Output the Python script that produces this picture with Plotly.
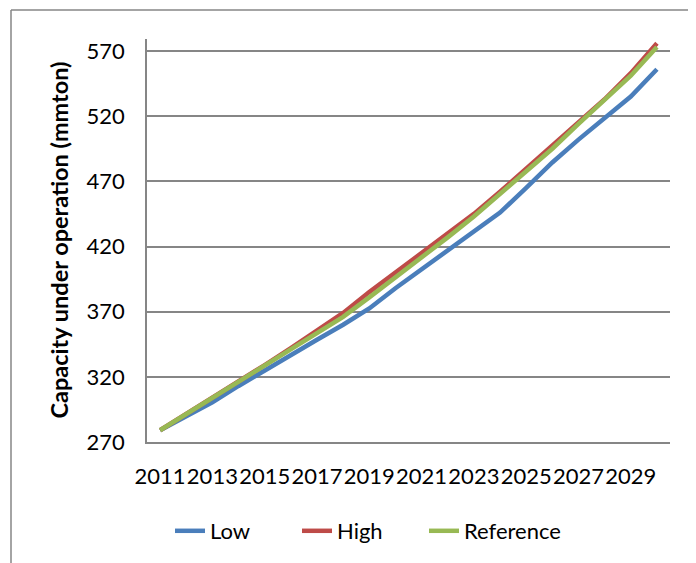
import plotly.graph_objects as go

years = list(range(2011, 2031))
low = [279, 290, 300.5, 313, 325, 337, 348.5, 360, 372.5, 388, 402.5, 417, 431, 446, 465, 484.5, 502, 519, 535, 556]
high = [279, 291.4, 303.8, 316, 329, 342, 355, 369, 385, 400, 415, 429.5, 445, 462, 480, 498, 516, 533, 553, 576]
reference = [279, 291.4, 303.8, 316, 328.5, 341, 354, 366, 381, 396, 412, 427, 443, 460, 477.5, 495, 514, 532, 551, 573]
tick_years = years[::2]
y_ticks = [270, 320, 370, 420, 470, 520, 570]

series = [("Low", low, "#4A7EBB"), ("High", high, "#BE4B48"), ("Reference", reference, "#98B954")]

FONT = "Lato"
OFF = 8  # page body margin
fig = go.Figure()
for name, vals, color in series:
    fig.add_trace(go.Scatter(x=years, y=vals, name=name, mode="lines",
                             line=dict(color=color, width=4.5)))
# spacer entry so the last legend label is not clipped
fig.add_trace(go.Scatter(x=[None], y=[None], name=" ", mode="lines", showlegend=True,
                         line=dict(color="rgba(0,0,0,0)", width=1), hoverinfo="skip"))

W, H = 696 - OFF, 563 - OFF
L, T = 147 - OFF, 39 - OFF
R = W - (670 - OFF)
B = H - (443 - OFF)
pw, ph = W - L - R, H - T - B

fig.update_layout(
    width=W, height=H,
    margin=dict(l=L, r=R, t=T, b=B),
    paper_bgcolor="white", plot_bgcolor="white",
    font=dict(family=FONT, size=22, color="black"),
    showlegend=True,
    legend=dict(orientation="h", x=23 / pw, xanchor="left",
                y=-88 / ph, yanchor="middle",
                font=dict(family=FONT, size=22, color="black"),
                entrywidth=82, entrywidthmode="pixels"),
    xaxis=dict(range=[2010.5, 2030.5], tickvals=tick_years,
               ticktext=[str(y) for y in tick_years], tickangle=0,
               showgrid=False, zeroline=False, showline=True,
               linecolor="#868686", linewidth=1.5, ticks="",
               ticklabelstandoff=14,
               tickfont=dict(family=FONT, size=22, color="black")),
    yaxis=dict(range=[270, 579.2], tickvals=y_ticks,
               showgrid=True, gridcolor="#868686", gridwidth=1.5,
               zeroline=False, showline=True, linecolor="#868686", linewidth=1.5,
               ticks="", ticklabelstandoff=16,
               tickfont=dict(family=FONT, size=22, color="black")),
    annotations=[dict(text="<b>Capacity under operation (mmton)</b>",
                      xref="paper", yref="paper", x=(58 - 147) / pw, y=0.5,
                      xanchor="center", yanchor="middle", textangle=-90,
                      showarrow=False,
                      font=dict(family=FONT, size=23.5, color="black"))],
    shapes=[
        dict(type="line", xref="paper", yref="paper",
             x0=(11 - 147) / pw, x1=(720 - 147) / pw,
             y0=1 + (39 - 10) / ph, y1=1 + (39 - 10) / ph,
             line=dict(color="#868686", width=1.5)),
        dict(type="line", xref="paper", yref="paper",
             x0=(11 - 147) / pw, x1=(11 - 147) / pw,
             y0=1 + (39 - 10) / ph, y1=-(B + 20) / ph,
             line=dict(color="#868686", width=1.5)),
    ],
)

fig.write_html("out.html")
